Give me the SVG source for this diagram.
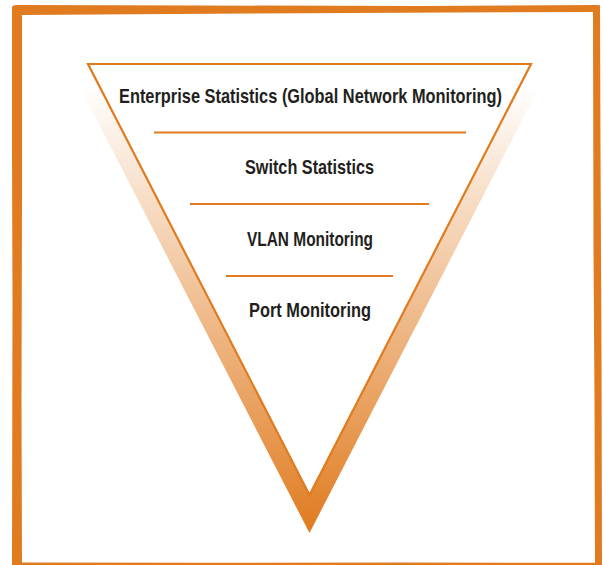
<svg xmlns="http://www.w3.org/2000/svg" width="603" height="565" viewBox="0 0 603 565">
  <defs>
    <linearGradient id="bandGrad" gradientUnits="userSpaceOnUse" x1="0" y1="85" x2="0" y2="533">
      <stop offset="0" stop-color="#ffffff"/>
      <stop offset="1" stop-color="#e07b1f"/>
    </linearGradient>
    <style>
      .frame { fill: #e07b1f; }
      .outline { fill: #ffffff; stroke: #e07b1f; stroke-width: 2.2; stroke-linejoin: miter; }
      .divider { stroke: #e07b1f; stroke-width: 2.2; fill: none; }
      .label { font-family: "Liberation Sans Narrow", "Liberation Sans", Arial, sans-serif; font-weight: bold; font-size: 21px; fill: #231f20; text-anchor: middle; }
    </style>
  </defs>
  <rect x="0" y="0" width="603" height="565" fill="#ffffff"/>

  <g id="frame">
    <path class="frame" d="M12,7 Q13,4.5 18,5 L200,5.5 L420,6 L598,5 L600,8 L600,12 L450,12.5 L250,13.5 L22,15 Z"/>
    <path class="frame" d="M12,7 L22,7 L22,200 L21.5,400 L22,565 L12,565 L12.5,300 L12,150 Z"/>
    <path class="frame" d="M593,7 L600,5 L600.5,150 L601.5,350 L602,565 L595,565 L594.5,400 L593.5,250 Z"/>
    <path class="frame" d="M22,562.5 L200,562.8 L400,562.5 L595,562.8 L595,565 L22,565 Z"/>
  </g>

  <g id="pyramid">
    <path fill="url(#bandGrad)" fill-rule="evenodd" d="M68,64 L551,64 L309.5,533 Z M88,64 L531,64 L309.5,495 Z"/>
    <path class="outline" d="M88,64 L531,64 L309.5,495 Z"/>
  </g>

  <g id="connectors">
    <line class="divider" x1="154" y1="132.5" x2="466" y2="132.5"/>
    <line class="divider" x1="190" y1="204" x2="429" y2="204"/>
    <line class="divider" x1="226" y1="276" x2="393" y2="276"/>
  </g>

  <g id="node-enterprise">
    <text class="label" x="310.5" y="103" textLength="383" lengthAdjust="spacingAndGlyphs">Enterprise Statistics (Global Network Monitoring)</text>
  </g>
  <g id="node-switch">
    <text class="label" x="309.5" y="174" textLength="129" lengthAdjust="spacingAndGlyphs">Switch Statistics</text>
  </g>
  <g id="node-vlan">
    <text class="label" x="310" y="246" textLength="126" lengthAdjust="spacingAndGlyphs">VLAN Monitoring</text>
  </g>
  <g id="node-port">
    <text class="label" x="310" y="317" textLength="122" lengthAdjust="spacingAndGlyphs">Port Monitoring</text>
  </g>
</svg>
